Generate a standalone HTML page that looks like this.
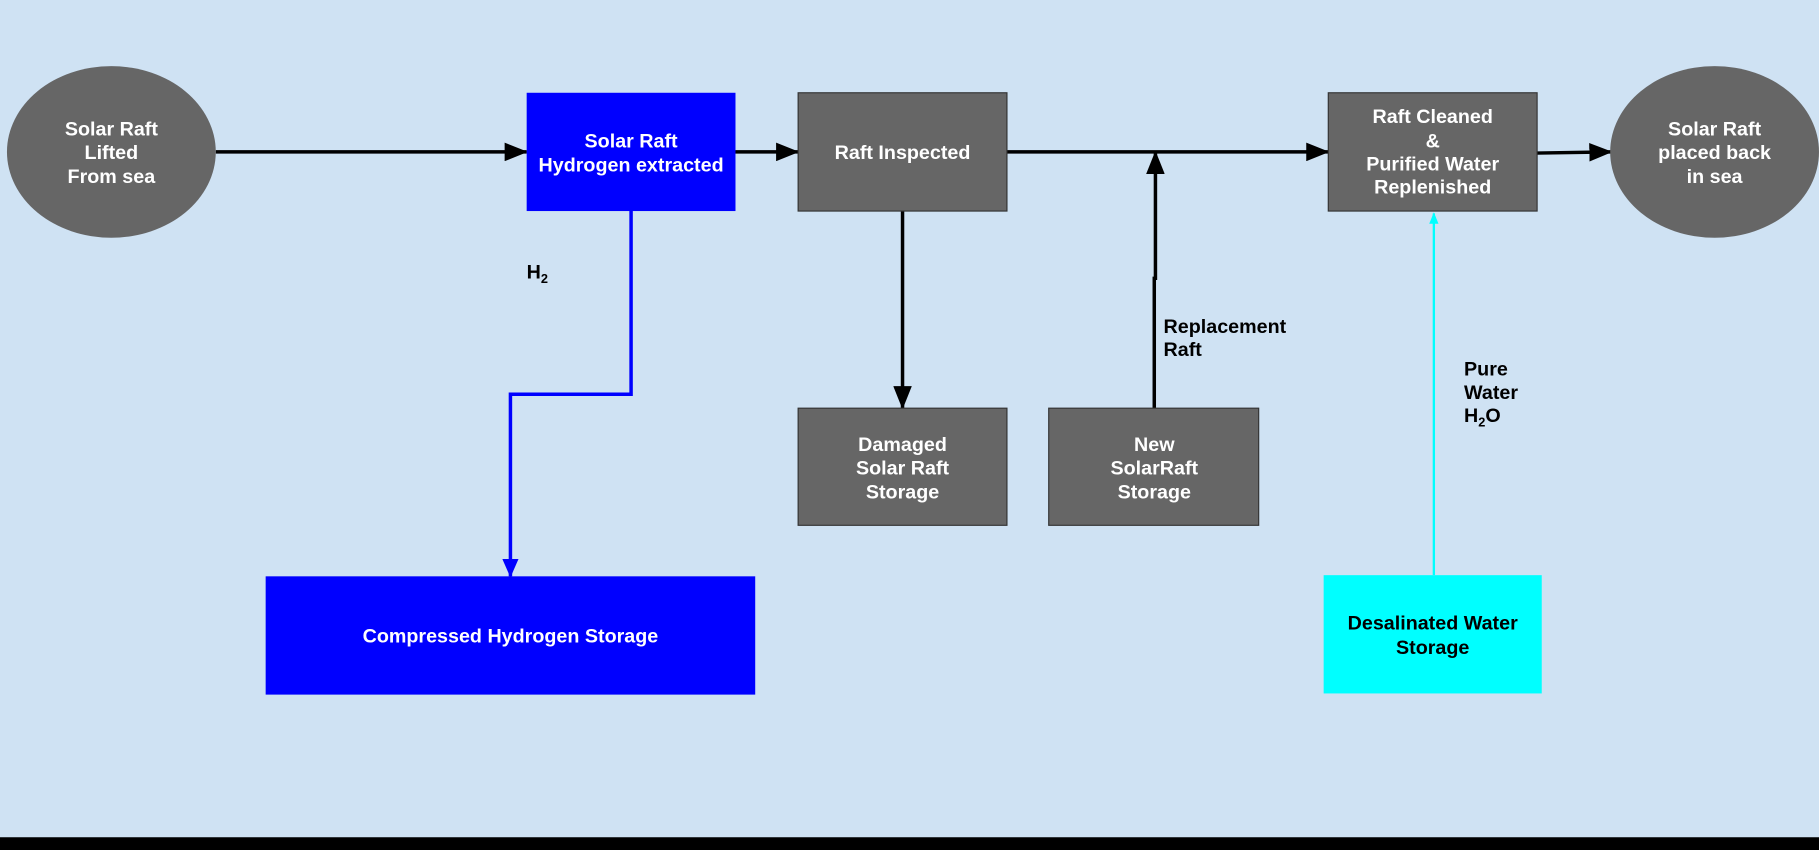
<!DOCTYPE html>
<html><head><meta charset="utf-8"><style>
html,body{margin:0;padding:0;width:1819px;height:850px;overflow:hidden;background:#cfe2f3}
svg{display:block}
text{font-family:"Liberation Sans",Arial,sans-serif;font-weight:bold;font-size:17px}
</style></head><body>
<svg width="1819" height="850" viewBox="0 0 1568 733" preserveAspectRatio="none">
<defs>
<marker id="ak" markerWidth="20" markerHeight="16" refX="19" refY="8" orient="auto" markerUnits="userSpaceOnUse"><path d="M0,0 L20,8 L0,16z" fill="#000"/></marker>
<marker id="abl" markerWidth="16" markerHeight="14" refX="15" refY="7" orient="auto" markerUnits="userSpaceOnUse"><path d="M0,0 L16,7 L0,14z" fill="#0000ff"/></marker>
<marker id="ac" markerWidth="10" markerHeight="8" refX="9" refY="4" orient="auto" markerUnits="userSpaceOnUse"><path d="M0,0 L10,4 L0,8z" fill="#00ffff"/></marker>
</defs>
<rect width="1568" height="733" fill="#cfe2f3"/>
<rect y="722" width="1568" height="11" fill="#000"/>
<g stroke="#000" stroke-width="3" fill="none">
<line x1="186" y1="131" x2="454" y2="131" marker-end="url(#ak)"/>
<line x1="634" y1="131" x2="688" y2="131" marker-end="url(#ak)"/>
<line x1="868" y1="131" x2="1145" y2="131" marker-end="url(#ak)"/>
<line x1="1325" y1="132" x2="1389" y2="131" marker-end="url(#ak)"/>
<line x1="778" y1="182" x2="778" y2="352" marker-end="url(#ak)"/>
<polyline points="995,352 995,240 996,240 996,131" marker-end="url(#ak)"/>
</g>
<polyline points="544,182 544,340 440,340 440,497" stroke="#0000ff" stroke-width="3" fill="none" marker-end="url(#abl)"/>
<line x1="1236" y1="496" x2="1236" y2="184" stroke="#00ffff" stroke-width="2" marker-end="url(#ac)"/>
<ellipse cx="96" cy="131" rx="90" ry="74" fill="#666"/>
<ellipse cx="1478" cy="131" rx="90" ry="74" fill="#666"/>
<rect x="454" y="80" width="180" height="102" fill="#0000ff"/>
<rect x="688" y="80" width="180" height="102" fill="#666" stroke="#333"/>
<rect x="1145" y="80" width="180" height="102" fill="#666" stroke="#333"/>
<rect x="688" y="352" width="180" height="101" fill="#666" stroke="#333"/>
<rect x="904" y="352" width="181" height="101" fill="#666" stroke="#333"/>
<rect x="229" y="497" width="422" height="102" fill="#0000ff"/>
<rect x="1141" y="496" width="188" height="102" fill="#00ffff"/>
<g fill="#fff" text-anchor="middle">
<text x="96" y="117">Solar Raft</text><text x="96" y="137">Lifted</text><text x="96" y="158">From sea</text>
<text x="544" y="127">Solar Raft</text><text x="544" y="148">Hydrogen extracted</text>
<text x="778" y="137">Raft Inspected</text>
<text x="1235" y="106">Raft Cleaned</text><text x="1235" y="127">&amp;</text><text x="1235" y="147">Purified Water</text><text x="1235" y="167">Replenished</text>
<text x="1478" y="117">Solar Raft</text><text x="1478" y="137">placed back</text><text x="1478" y="158">in sea</text>
<text x="778" y="389">Damaged</text><text x="778" y="409">Solar Raft</text><text x="778" y="430">Storage</text>
<text x="995" y="389">New</text><text x="995" y="409">SolarRaft</text><text x="995" y="430">Storage</text>
<text x="440" y="554">Compressed Hydrogen Storage</text>
</g>
<g fill="#000">
<text x="1235" y="543" text-anchor="middle">Desalinated Water</text><text x="1235" y="564" text-anchor="middle">Storage</text>
<text x="454" y="240">H<tspan font-size="11" dy="4">2</tspan></text>
<text x="1003" y="287">Replacement</text><text x="1003" y="307">Raft</text>
<text x="1262" y="324">Pure</text><text x="1262" y="344">Water</text>
<text x="1262" y="364">H<tspan font-size="11" dy="4">2</tspan><tspan dy="-4">O</tspan></text>
</g>
</svg>
</body></html>
